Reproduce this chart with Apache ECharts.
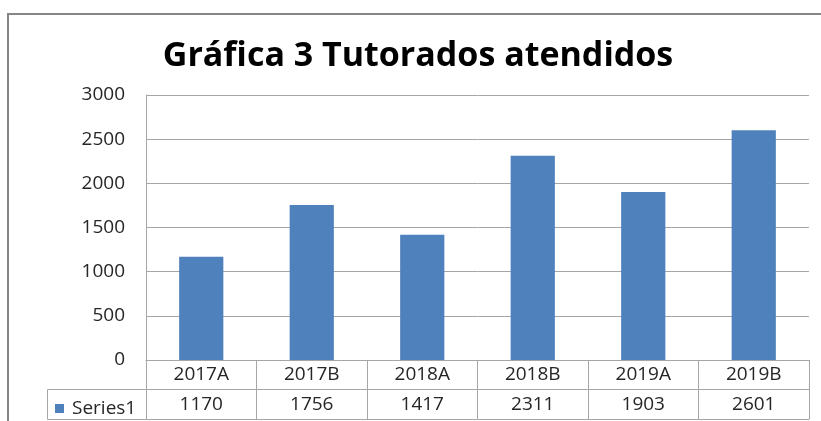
<!DOCTYPE html>
<html>
<head>
<meta charset="utf-8">
<title>Gráfica 3 Tutorados atendidos</title>
<script src="https://cdn.jsdelivr.net/npm/echarts@6/dist/echarts.min.js"></script>
<style>
  html, body { margin: 0; padding: 0; background: #fff; }
  #chart { width: 821px; height: 421px; }
</style>
</head>
<body>
<div id="chart"></div>
<script>
// data
var categories = ['2017A', '2017B', '2018A', '2018B', '2019A', '2019B'];
var series1 = [1170, 1756, 1417, 2311, 1903, 2601];
var yTicks = { min: 0, max: 3000, interval: 500 };

var lineColor = '#a6a6a6';
var textColor = '#262626';
var font = 'Open Sans';

var chart = echarts.init(document.getElementById('chart'));

var option = {
  animation: false,
  title: {
    text: 'Gráfica 3 Tutorados atendidos',
    left: 413,
    top: 34,
    textAlign: 'center',
    textStyle: { fontFamily: font, fontWeight: 'bold', fontSize: 34, color: '#000' }
  },
  legend: {
    data: ['Series1'],
    left: 50,
    top: 394,
    icon: 'rect',
    itemWidth: 9,
    itemHeight: 9,
    textStyle: { fontFamily: font, fontSize: 19, color: textColor, padding: [0, 0, 0, 3] }
  },
  grid: { left: 146, right: 12, top: 95, bottom: 61 },
  xAxis: [
    {
      type: 'category',
      data: categories,
      axisLine: { lineStyle: { color: lineColor } },
      axisTick: { show: true, length: 59, lineStyle: { color: lineColor } },
      axisLabel: { margin: 5, fontFamily: font, fontSize: 19, color: textColor }
    },
    {
      type: 'category',
      position: 'bottom',
      offset: 29,
      data: series1.map(String),
      axisLine: { lineStyle: { color: lineColor } },
      axisTick: { show: false },
      axisLabel: { margin: 6, fontFamily: font, fontSize: 19, color: textColor }
    },
    {
      type: 'category',
      position: 'bottom',
      offset: 59,
      data: categories,
      axisLine: { lineStyle: { color: lineColor } },
      axisTick: { show: false },
      axisLabel: { show: false }
    }
  ],
  yAxis: {
    type: 'value',
    min: yTicks.min,
    max: yTicks.max,
    interval: yTicks.interval,
    axisLine: { show: true, lineStyle: { color: lineColor } },
    axisTick: { show: false },
    splitLine: { lineStyle: { color: lineColor } },
    axisLabel: {
      margin: 21,
      fontFamily: font,
      fontSize: 19,
      color: textColor,
      formatter: function (v) { return String(v); }
    }
  },
  series: [
    {
      name: 'Series1',
      type: 'bar',
      xAxisIndex: 0,
      barWidth: '40%',
      itemStyle: { color: '#4f81bd' },
      data: series1
    }
  ],
  graphic: [
    {
      // outer chart border
      type: 'rect',
      shape: { x: 8, y: 14, width: 900, height: 500 },
      style: { fill: 'none', stroke: '#868686', lineWidth: 2 },
      silent: true
    },
    {
      // legend key cell of the data table
      type: 'rect',
      shape: { x: 47.5, y: 389.5, width: 99, height: 30 },
      style: { fill: 'none', stroke: lineColor, lineWidth: 1 },
      silent: true
    }
  ]
};

chart.setOption(option);
</script>
</body>
</html>
